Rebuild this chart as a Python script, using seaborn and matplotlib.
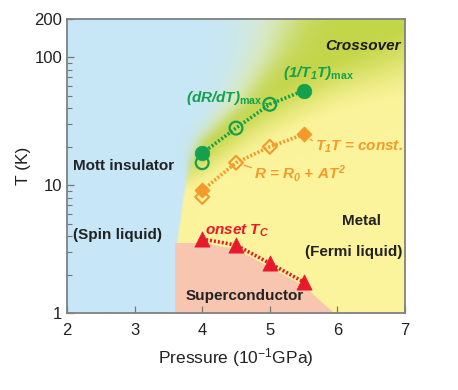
import numpy as np
import matplotlib
matplotlib.use("Agg")
import matplotlib.pyplot as plt
import seaborn as sns
from matplotlib.colors import to_rgb

# ---------------- data ----------------
p_t1t_max = [4.0, 5.5]
T_t1t_max = [17.8, 55.0]          # (1/T1T)max  (filled circles)
p_drdt_max = [4.0, 4.5, 5.0]
T_drdt_max = [15.0, 28.0, 43.0]   # (dR/dT)max  (open circles)
p_t1t_const = [4.0, 5.5]
T_t1t_const = [9.1, 25.0]         # T1T = const (filled diamonds)
p_r_at2 = [4.0, 4.5, 5.0]
T_r_at2 = [8.1, 15.0, 20.0]       # R = R0 + AT^2 (open diamonds)
p_tc = [4.0, 4.5, 5.0, 5.5]
T_tc = [3.8, 3.4, 2.45, 1.75]     # onset Tc (triangles)

x_ticks = [2, 3, 4, 5, 6, 7]
y_ticks = [1, 10, 100, 200]
y_ticklabels = ["1", "10", "100", "200"]

# colours
BLUE = "#c7e7f7"
YELLOW = "#fcf49c"
GREEN = "#c3d548"
PINK = "#f8c5b1"
C_GREEN = "#14a04c"
C_ORANGE = "#f39a2a"
C_RED = "#e8192a"

plt.rcParams.update({
    "font.family": ["Liberation Sans", "DejaVu Sans"],
    "mathtext.fontset": "custom",
    "mathtext.rm": "Liberation Sans:italic:bold",
    "mathtext.it": "Liberation Sans:italic:bold",
    "mathtext.bf": "Liberation Sans:bold",
    "mathtext.sf": "Liberation Sans:bold",
})

fig = plt.figure(figsize=(4.58, 3.90), dpi=100)
pos = [67 / 458, 1 - 313 / 390, (405 - 67) / 458, (313 - 19) / 390]

# ---------------- background phase field (linear in log T) ----------------
ax_bg = fig.add_axes(pos, zorder=0)
ax_bg.set_axis_off()
U_MAX = np.log10(200)
P = np.linspace(2, 7, 700)
U = np.linspace(0, U_MAX, 700)
PP, UU = np.meshgrid(P, U)
bu = [0.0, 0.55, 1.0, 1.18, 1.36, 1.65, 2.05, 2.31]
bp = [3.61, 3.63, 3.75, 3.82, 3.96, 4.45, 4.88, 5.05]
Pb = np.interp(UU, bu, bp)
w = np.interp(UU, [0.0, 1.0, 1.3, 1.65, 2.31], [0.004, 0.008, 0.06, 0.12, 0.22])
m = 1 / (1 + np.exp(-(PP - Pb) / w))
gp = [3.5, 4.0, 4.5, 5.0, 5.5, 6.0, 7.0]
glo = [0.85, 0.95, 1.12, 1.28, 1.40, 1.52, 1.62]
ghi = [1.20, 1.32, 1.55, 1.75, 1.92, 2.05, 2.30]
lo = np.interp(PP, gp, glo)
hi = np.interp(PP, gp, ghi)
t = np.clip((UU - lo) / (hi - lo), 0, 1)
g = t * t * (3 - 2 * t)
b = np.array(to_rgb(BLUE))
y = np.array(to_rgb(YELLOW))
gr = np.array(to_rgb(GREEN))
metal = y[None, None, :] * (1 - g[..., None]) + gr[None, None, :] * g[..., None]
img = b[None, None, :] * (1 - m[..., None]) + metal * m[..., None]
fade = np.clip((UU - 1.15) / 0.5, 0, 1)
light = (0.3 * fade * 4 * m * (1 - m))[..., None]
img = img + light * (1 - img)
ax_bg.imshow(np.clip(img, 0, 1), origin="lower", extent=(2, 7, 0, U_MAX),
             aspect="auto", interpolation="bilinear")
ax_bg.set_xlim(2, 7)
ax_bg.set_ylim(0, U_MAX)

ax = fig.add_axes(pos, zorder=1)
ax.patch.set_visible(False)
ax.set_yscale("log")
ax.set_xlim(2, 7)
ax.set_ylim(1, 200)

# superconducting dome (pink)
sc_p = [3.60, 3.60] + p_tc + [5.95]
sc_T = [1.0, T_tc[0] * 0.93] + [v * 0.93 for v in T_tc] + [1.0]
ax.fill(sc_p, sc_T, color=PINK, lw=0, zorder=1)

# ---------------- dotted connecting lines ----------------
dot = (0, (0.55, 0.55))
green_line_p = [p_t1t_max[0]] + p_drdt_max[1:] + [p_t1t_max[1]]
green_line_T = [T_t1t_max[0]] + T_drdt_max[1:] + [T_t1t_max[1]]
orange_line_p = [p_t1t_const[0]] + p_r_at2[1:] + [p_t1t_const[1]]
orange_line_T = [T_t1t_const[0]] + T_r_at2[1:] + [T_t1t_const[1]]
for xs, ys, c in [(green_line_p, green_line_T, C_GREEN),
                  (orange_line_p, orange_line_T, C_ORANGE),
                  (p_tc, T_tc, C_RED)]:
    sns.lineplot(x=xs, y=ys, color=c, lw=2.6, linestyle=dot, sort=False,
                 ax=ax, zorder=2, legend=False)

# ---------------- markers ----------------
sns.scatterplot(x=p_drdt_max, y=T_drdt_max, marker="o", s=85, facecolors="none",
                edgecolor=C_GREEN, linewidth=1.6, ax=ax, zorder=3, legend=False)
sns.scatterplot(x=p_t1t_max, y=T_t1t_max, marker="o", s=110, color=C_GREEN,
                edgecolor=C_GREEN, linewidth=0.5, ax=ax, zorder=3, legend=False)
sns.scatterplot(x=p_r_at2, y=T_r_at2, marker="D", s=50, facecolors="none",
                edgecolor=C_ORANGE, linewidth=1.5, ax=ax, zorder=3, legend=False)
sns.scatterplot(x=p_t1t_const, y=T_t1t_const, marker="D", s=60, color=C_ORANGE,
                edgecolor=C_ORANGE, linewidth=0.5, ax=ax, zorder=3, legend=False)
sns.scatterplot(x=p_tc, y=T_tc, marker="^", s=120, color=C_RED,
                edgecolor=C_RED, linewidth=0.5, ax=ax, zorder=3, legend=False)

# ---------------- labels ----------------
fs = 11
lk = dict(arrowstyle="-", lw=0.9, shrinkA=0, shrinkB=6)
ax.annotate(r"$(dR/dT)_{\mathbf{max}}$", xy=(p_drdt_max[2], T_drdt_max[2]),
            xytext=(3.76, 48), color=C_GREEN, fontsize=fs, va="center", ha="left",
            arrowprops=dict(color=C_GREEN, relpos=(1.0, 0.25), **lk), zorder=4)
ax.annotate(r"$(1/T_1T)_{\mathbf{max}}$", xy=(p_t1t_max[1], T_t1t_max[1]),
            xytext=(5.2, 75), color=C_GREEN, fontsize=fs, va="center", ha="left",
            arrowprops=dict(color=C_GREEN, relpos=(0.36, 0.05), **lk), zorder=4)
ax.annotate(r"$T_1T$ = const.", xy=(p_t1t_const[1], T_t1t_const[1]),
            xytext=(5.67, 20.0), color=C_ORANGE, fontsize=fs, va="center", ha="left",
            fontstyle="italic", fontweight="bold",
            arrowprops=dict(color=C_ORANGE, relpos=(0.0, 0.75), **lk), zorder=4)
ax.annotate(r"$R$ = $R_0$ + $AT^2$", xy=(p_r_at2[1], T_r_at2[1]),
            xytext=(4.77, 12.3), color=C_ORANGE, fontsize=fs, va="center", ha="left",
            fontstyle="italic", fontweight="bold",
            arrowprops=dict(color=C_ORANGE, relpos=(0.0, 0.75), **lk), zorder=4)
ax.text(4.04, 4.4, r"onset $T_C$", color=C_RED, fontsize=fs, va="center", ha="left",
        fontstyle="italic", fontweight="bold", zorder=4)
ax.text(6.93, 122, "Crossover", color="#1a1a1a", fontsize=fs, va="center", ha="right",
        fontstyle="italic", fontweight="bold", zorder=4)
for s, xx, yy in [("Mott insulator", 2.09, 14.1), ("(Spin liquid)", 2.09, 4.07),
                  ("Metal", 6.07, 5.25), ("(Fermi liquid)", 5.52, 3.0),
                  ("Superconductor", 3.76, 1.36)]:
    ax.text(xx, yy, s, color="#222222", fontsize=fs, fontweight="bold",
            va="center", ha="left", zorder=4)

# ---------------- axes styling ----------------
ax.set_xticks(x_ticks)
ax.set_xticklabels([str(v) for v in x_ticks])
ax.set_yticks(y_ticks)
ax.set_yticklabels(y_ticklabels)
ax.tick_params(axis="both", which="major", direction="in", labelsize=12,
               colors="#777777", labelcolor="#222222", length=5, width=0.9)
ax.tick_params(axis="y", which="minor", direction="in", length=3.5, width=0.8,
               colors="#777777", labelleft=False)
ax.tick_params(axis="x", which="major", pad=7)
for sp in ax.spines.values():
    sp.set_color("#808080")
    sp.set_linewidth(1.3)
ax.set_xlabel(r"Pressure (10$^{\mathregular{-1}}$GPa)", fontsize=12.5, color="#222222",
              labelpad=6)
ax.set_ylabel("T (K)", fontsize=12.5, color="#222222", labelpad=2)

fig.savefig("out.png", dpi=100)
